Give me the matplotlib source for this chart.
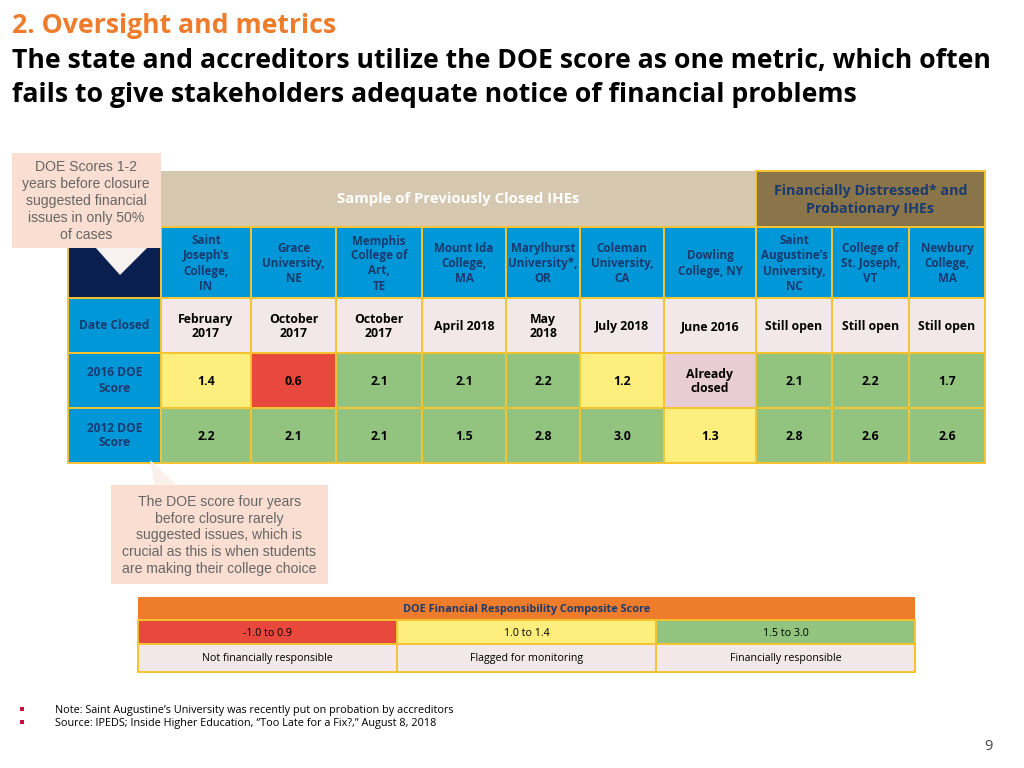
import matplotlib
matplotlib.use("Agg")
import matplotlib.pyplot as plt
from matplotlib.patches import Rectangle, Polygon

# ---- data -------------------------------------------------------------
INSTITUTIONS = ["Saint\nJoseph\u2019s\nCollege,\nIN", "Grace\nUniversity,\nNE",
                "Memphis\nCollege of\nArt,\nTE", "Mount Ida\nCollege,\nMA",
                "Marylhurst\nUniversity*,\nOR", "Coleman\nUniversity,\nCA",
                "Dowling\nCollege, NY", "Saint\nAugustine\u2019s\nUniversity,\nNC",
                "College of\nSt. Joseph,\nVT", "Newbury\nCollege,\nMA"]
DATE_CLOSED = ["February\n2017", "October\n2017", "October\n2017", "April 2018",
               "May\n2018", "July 2018", "June 2016", "Still open", "Still open",
               "Still open"]
SCORE_2016 = [1.4, 0.6, 2.1, 2.1, 2.2, 1.2, None, 2.1, 2.2, 1.7]
SCORE_2012 = [2.2, 2.1, 2.1, 1.5, 2.8, 3.0, 1.3, 2.8, 2.6, 2.6]
ROW_LABELS = ["Date Closed", "2016 DOE\nScore", "2012 DOE\nScore"]
N_CLOSED = 7

LEGEND_RANGES = ["-1.0 to 0.9", "1.0 to 1.4", "1.5 to 3.0"]
LEGEND_UPPER = [0.95, 1.45, 3.0]
LEGEND_MEANING = ["Not financially responsible", "Flagged for monitoring",
                  "Financially responsible"]

# ---- colours ----------------------------------------------------------
RED, YELLOW, GREEN = "#E9493D", "#FDEE7E", "#93C47F"
BIN_COLORS = [RED, YELLOW, GREEN]
BLUE, NAVY, GOLD = "#0097D8", "#1B3A6E", "#F5C430"
TAN, BROWN, PINK = "#D6C8B0", "#8A7449", "#F2E7E9"
ORANGE = "#EE7C2B"

SANS = ["Open Sans", "DejaVu Sans"]
ARIAL = ["Liberation Sans", "DejaVu Sans"]


def score_color(v):
    for up, c in zip(LEGEND_UPPER, BIN_COLORS):
        if v <= up:
            return c
    return BIN_COLORS[-1]


fig = plt.figure(figsize=(10.24, 7.68), dpi=100)
ax = fig.add_axes([0, 0, 1, 1])
ax.set_xlim(0, 1024)
ax.set_ylim(768, 0)
ax.axis("off")


def cell(x0, y0, x1, y1, fc, ec=GOLD, lw=1.4, z=1):
    ax.add_patch(Rectangle((x0, y0), x1 - x0, y1 - y0, facecolor=fc,
                           edgecolor=ec, linewidth=lw, zorder=z))


# ---- title ------------------------------------------------------------
ax.text(12, 26, "2. Oversight and metrics", color="#EE7C2B", fontsize=19.2,
        fontweight="bold", family=SANS, va="center", ha="left")
ax.text(12, 61, "The state and accreditors utilize the DOE score as one metric, which often",
        color="black", fontsize=19.2, fontweight="bold", family=SANS,
        va="center", ha="left")
ax.text(12, 95, "fails to give stakeholders adequate notice of financial problems",
        color="black", fontsize=19.2, fontweight="bold", family=SANS,
        va="center", ha="left")

# ---- main table -------------------------------------------------------
col_x = [161, 251, 336, 422, 506, 580, 664, 756, 832, 909, 985]
row_y = [171, 227, 298, 353, 408, 463]
left = 68

# group headers
cell(col_x[0], row_y[0], col_x[N_CLOSED], row_y[1], TAN, ec=TAN, lw=0)
ax.text((col_x[0] + col_x[N_CLOSED]) / 2, 199, "Sample of Previously Closed IHEs",
        color="white", fontsize=10.7, fontweight="bold", family=SANS,
        ha="center", va="center")
cell(col_x[N_CLOSED], row_y[0], col_x[-1], row_y[1], BROWN, ec=GOLD, lw=1.4)
ax.text((col_x[N_CLOSED] + col_x[-1]) / 2, 200,
        "Financially Distressed* and\nProbationary IHEs", color=NAVY,
        fontsize=10.3, fontweight="bold", family=SANS, ha="center", va="center",
        linespacing=1.3)

# corner cell
cell(left, row_y[1], col_x[0], row_y[2], "#0B1F4F", ec=GOLD)

# institution names
for i, name in enumerate(INSTITUTIONS):
    x0, x1 = col_x[i], col_x[i + 1]
    cell(x0, row_y[1], x1, row_y[2], BLUE)
    ax.text((x0 + x1) / 2, (row_y[1] + row_y[2]) / 2 + 1, name, color=NAVY,
            fontsize=8.4, fontweight="bold", family=SANS, ha="center",
            va="center", linespacing=1.2)

# row labels
for r, lab in enumerate(ROW_LABELS):
    y0, y1 = row_y[r + 2], row_y[r + 3]
    cell(left, y0, col_x[0], y1, BLUE)
    ax.text((left + col_x[0]) / 2, (y0 + y1) / 2, lab, color=NAVY,
            fontsize=8.6, fontweight="bold", family=SANS, ha="center",
            va="center", linespacing=1.2)

# body
for i in range(len(INSTITUTIONS)):
    x0, x1 = col_x[i], col_x[i + 1]
    xc = (x0 + x1) / 2
    # date row
    cell(x0, row_y[2], x1, row_y[3], PINK)
    ax.text(xc, (row_y[2] + row_y[3]) / 2 + 1, DATE_CLOSED[i], color="black",
            fontsize=8.8, fontweight="bold", family=SANS, ha="center",
            va="center", linespacing=1.15)
    # 2016
    v = SCORE_2016[i]
    if v is None:
        cell(x0, row_y[3], x1, row_y[4], "#E9CDD4")
        txt = "Already\nclosed"
    else:
        cell(x0, row_y[3], x1, row_y[4], score_color(v))
        txt = f"{v:.1f}"
    ax.text(xc, (row_y[3] + row_y[4]) / 2 + 1, txt, color="black", fontsize=8.8,
            fontweight="bold", family=SANS, ha="center", va="center",
            linespacing=1.15)
    # 2012
    v = SCORE_2012[i]
    cell(x0, row_y[4], x1, row_y[5], score_color(v))
    ax.text(xc, (row_y[4] + row_y[5]) / 2 + 1, f"{v:.1f}", color="black",
            fontsize=8.8, fontweight="bold", family=SANS, ha="center",
            va="center")

# ---- callouts ---------------------------------------------------------
PEACH = "#F9DED1"
ax.add_patch(Polygon([[95, 247], [148, 247], [120, 275]], closed=True,
                     facecolor="#F7F1EF", edgecolor="none", zorder=3))
ax.add_patch(Rectangle((12, 153), 149, 95, facecolor=PEACH, edgecolor="none",
                       zorder=3))
ax.text(86, 201, "DOE Scores 1-2\nyears before closure\nsuggested financial\n"
        "issues in only 50%\nof cases", color="#666666", fontsize=10.1,
        family=ARIAL, ha="center", va="center", linespacing=1.27, zorder=4)

ax.add_patch(Polygon([[150, 460], [155, 486], [178, 486]], closed=True,
                     facecolor="#FBF1EC", edgecolor="none", zorder=3))
ax.add_patch(Rectangle((111, 485), 217, 99, facecolor=PEACH, edgecolor="none",
                       zorder=3))
ax.text(219.5, 535.5, "The DOE score four years\nbefore closure rarely\n"
        "suggested issues, which is\ncrucial as this is when students\n"
        "are making their college choice", color="#666666", fontsize=10.1,
        family=ARIAL, ha="center", va="center", linespacing=1.27, zorder=4)

# ---- legend table -----------------------------------------------------
lx = [138, 397, 656, 915]
ly = [597, 620, 644, 672]
cell(lx[0], ly[0], lx[-1], ly[1], ORANGE, ec=ORANGE, lw=0)
ax.text((lx[0] + lx[-1]) / 2, (ly[0] + ly[1]) / 2 + 1,
        "DOE Financial Responsibility Composite Score", color=NAVY,
        fontsize=7.8, fontweight="bold", family=SANS, ha="center", va="center")
for j in range(3):
    x0, x1 = lx[j], lx[j + 1]
    cell(x0, ly[1], x1, ly[2], BIN_COLORS[j])
    ax.text((x0 + x1) / 2, (ly[1] + ly[2]) / 2 + 1, LEGEND_RANGES[j],
            color="black", fontsize=7.7, family=SANS, ha="center", va="center")
    cell(x0, ly[2], x1, ly[3], PINK)
    ax.text((x0 + x1) / 2, (ly[2] + ly[3]) / 2 + 1, LEGEND_MEANING[j],
            color="black", fontsize=7.7, family=SANS, ha="center", va="center")

# ---- footnotes --------------------------------------------------------
notes = ["Note: Saint Augustine\u2019s University was recently put on probation by accreditors",
         "Source: IPEDS; Inside Higher Education, \u201cToo Late for a Fix?,\u201d August 8, 2018"]
for k, n in enumerate(notes):
    y = 709 + 13 * k
    ax.add_patch(Rectangle((19.5, y - 2), 4, 4, facecolor="#C0143C",
                           edgecolor="none"))
    ax.text(55, y + 1.5, n, color="black", fontsize=7.8, family=SANS,
            ha="left", va="center")

ax.text(988, 746, "9", color="#444444", fontsize=10.5, family=SANS,
        ha="center", va="center")

fig.savefig("out.png", dpi=100)
